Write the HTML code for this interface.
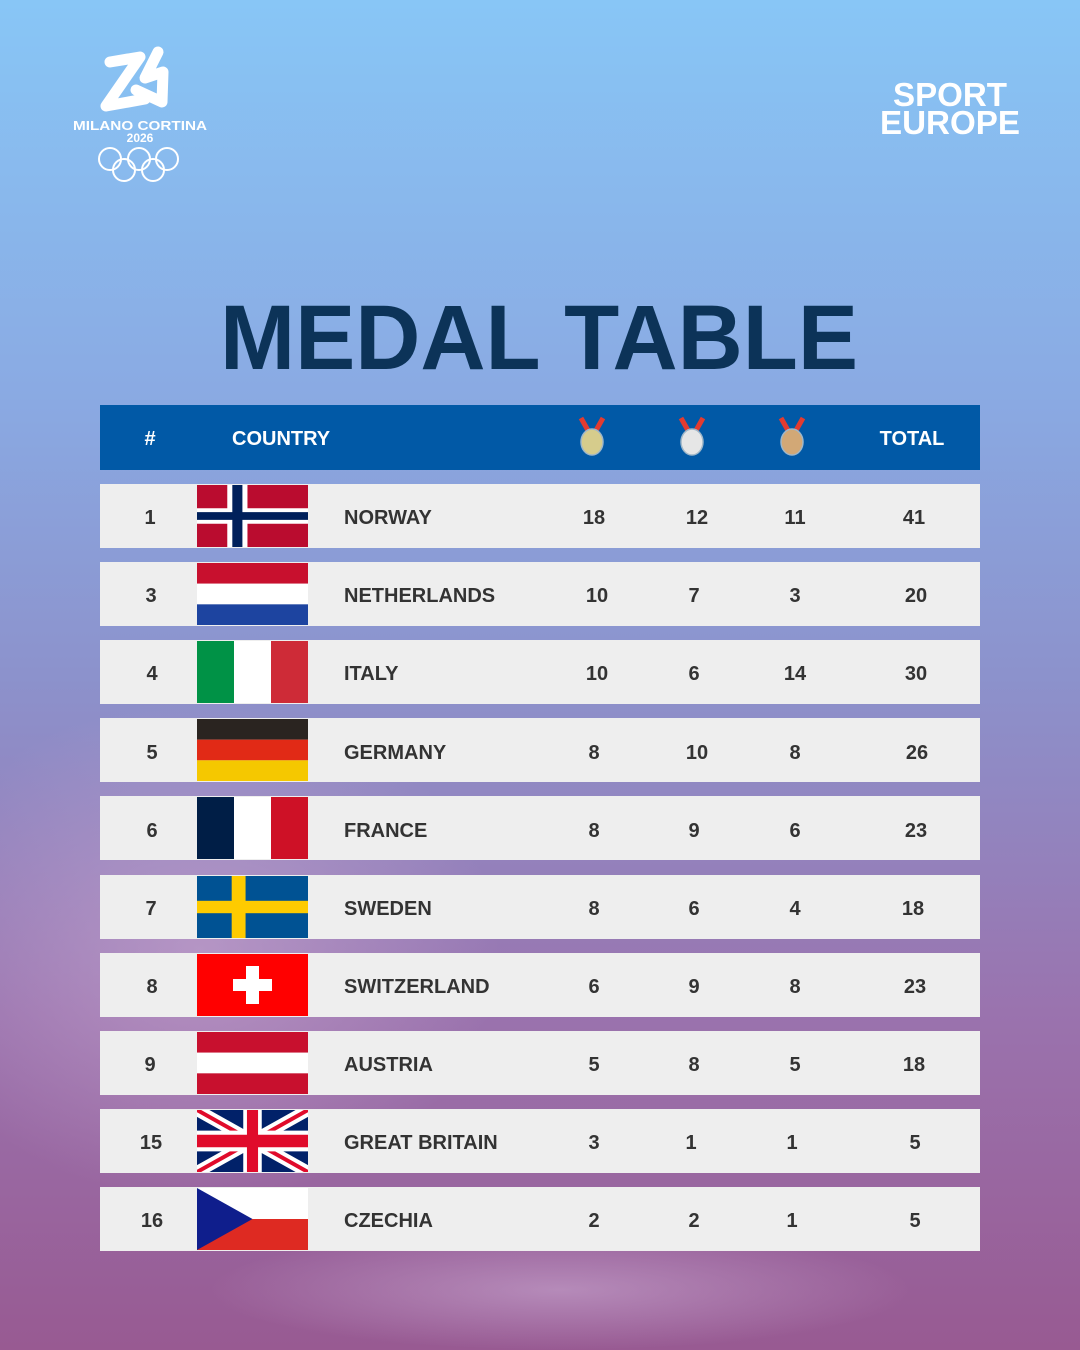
<!DOCTYPE html>
<html><head><meta charset="utf-8"><style>
html,body{margin:0;padding:0;width:1080px;height:1350px;overflow:hidden}
svg{display:block}
</style></head><body>
<svg width="1080" height="1350" viewBox="0 0 1080 1350" xmlns="http://www.w3.org/2000/svg" font-family="Liberation Sans, sans-serif">
<defs>
<linearGradient id="bg" x1="0" y1="0" x2="0" y2="1">
<stop offset="0" stop-color="#88c6f6"/>
<stop offset="0.3" stop-color="#8aa9e2"/>
<stop offset="0.5" stop-color="#8c92cc"/>
<stop offset="0.75" stop-color="#9a73ae"/>
<stop offset="1" stop-color="#985a92"/>
</linearGradient>
<radialGradient id="glow" cx="0.5" cy="0.5" r="0.5">
<stop offset="0" stop-color="#c9a8d0" stop-opacity="0.6"/>
<stop offset="1" stop-color="#c9a8d0" stop-opacity="0"/>
</radialGradient>
<g id="medal">
<path d="M-11,-18 L-2,-2 M11,-18 L2,-2" stroke="#e23b30" stroke-width="5"/>
<ellipse cx="0" cy="6" rx="11" ry="13" stroke="#9fb7c9" stroke-width="1.5"/>
</g>
</defs>
<rect width="1080" height="1350" fill="url(#bg)"/>
<ellipse cx="200" cy="950" rx="300" ry="250" fill="url(#glow)"/>
<ellipse cx="560" cy="1290" rx="350" ry="60" fill="url(#glow)"/>

<!-- logo -->
<g fill="none" stroke="#fff" stroke-width="11" stroke-linecap="round" stroke-linejoin="round">
<path d="M110,62 L140,57 L106,106 L145,99"/>
<path d="M158,52 L145,78 L163,72 L162,102 L136,90"/>
</g>
<text x="140" y="130" fill="#fff" font-size="13" text-anchor="middle" font-weight="bold" textLength="134" lengthAdjust="spacingAndGlyphs">MILANO CORTINA</text>
<text x="140" y="142" fill="#fff" font-size="12" text-anchor="middle" font-weight="bold">2026</text>
<g fill="none" stroke="#fff" stroke-width="2">
<circle cx="110" cy="159" r="11"/><circle cx="139" cy="159" r="11"/><circle cx="167" cy="159" r="11"/>
<circle cx="124" cy="170" r="11"/><circle cx="153" cy="170" r="11"/>
</g>

<text x="950" y="106" fill="#fff" font-size="33" font-weight="bold" text-anchor="middle" textLength="114" lengthAdjust="spacingAndGlyphs">SPORT</text>
<text x="950" y="134" fill="#fff" font-size="33" font-weight="bold" text-anchor="middle" textLength="140" lengthAdjust="spacingAndGlyphs">EUROPE</text>

<text x="220" y="369" fill="#0c3358" font-size="92" font-weight="bold" textLength="638" lengthAdjust="spacingAndGlyphs">MEDAL TABLE</text>

<!-- header -->
<rect x="100" y="405" width="880" height="65" fill="#0159a6"/>
<g fill="#fff" font-size="20" font-weight="bold">
<text x="150" y="445" text-anchor="middle">#</text>
<text x="232" y="445">COUNTRY</text>
<text x="912" y="445" text-anchor="middle">TOTAL</text>
</g>
<use href="#medal" x="592" y="436" fill="#d6cc8c"/>
<use href="#medal" x="692" y="436" fill="#e6e6e6"/>
<use href="#medal" x="792" y="436" fill="#d2a876"/>

<!-- rows -->
<g fill="#eeeeee">
<rect x="100" y="484" width="880" height="64"/>
<rect x="100" y="562" width="880" height="64"/>
<rect x="100" y="640" width="880" height="64"/>
<rect x="100" y="718" width="880" height="64"/>
<rect x="100" y="796" width="880" height="64"/>
<rect x="100" y="875" width="880" height="64"/>
<rect x="100" y="953" width="880" height="64"/>
<rect x="100" y="1031" width="880" height="64"/>
<rect x="100" y="1109" width="880" height="64"/>
<rect x="100" y="1187" width="880" height="64"/>
</g>

<!-- flags -->
<svg x="197" y="485" width="111" height="62" viewBox="0 0 22 16" preserveAspectRatio="none">
<rect width="22" height="16" fill="#ba0c2f"/><rect x="6" width="4" height="16" fill="#fff"/><rect y="6" width="22" height="4" fill="#fff"/>
<rect x="7" width="2" height="16" fill="#00205b"/><rect y="7" width="22" height="2" fill="#00205b"/></svg>
<svg x="197" y="563" width="111" height="62" viewBox="0 0 3 3" preserveAspectRatio="none">
<rect width="3" height="1" fill="#c8102e"/><rect y="1" width="3" height="1" fill="#fff"/><rect y="2" width="3" height="1" fill="#1d44a0"/></svg>
<svg x="197" y="641" width="111" height="62" viewBox="0 0 3 3" preserveAspectRatio="none">
<rect width="1" height="3" fill="#009246"/><rect x="1" width="1" height="3" fill="#fff"/><rect x="2" width="1" height="3" fill="#ce2b37"/></svg>
<svg x="197" y="719" width="111" height="62" viewBox="0 0 3 3" preserveAspectRatio="none">
<rect width="3" height="1" fill="#2a2420"/><rect y="1" width="3" height="1" fill="#e12a16"/><rect y="2" width="3" height="1" fill="#f5c800"/></svg>
<svg x="197" y="797" width="111" height="62" viewBox="0 0 3 3" preserveAspectRatio="none">
<rect width="1" height="3" fill="#001e46"/><rect x="1" width="1" height="3" fill="#fff"/><rect x="2" width="1" height="3" fill="#ce1126"/></svg>
<svg x="197" y="876" width="111" height="62" viewBox="0 0 16 10" preserveAspectRatio="none">
<rect width="16" height="10" fill="#005293"/><rect x="5" width="2" height="10" fill="#fecb00"/><rect y="4" width="16" height="2" fill="#fecb00"/></svg>
<svg x="197" y="954" width="111" height="62">
<rect width="111" height="62" fill="#ff0000"/><rect x="49" y="12" width="13" height="38" fill="#fff"/><rect x="36" y="25" width="39" height="12" fill="#fff"/></svg>
<svg x="197" y="1032" width="111" height="62" viewBox="0 0 3 3" preserveAspectRatio="none">
<rect width="3" height="1" fill="#c8102e"/><rect y="1" width="3" height="1" fill="#fff"/><rect y="2" width="3" height="1" fill="#c8102e"/></svg>
<svg x="197" y="1110" width="111" height="62" viewBox="0 0 60 30" preserveAspectRatio="none">
<rect width="60" height="30" fill="#012169"/>
<path d="M0,0 L60,30 M60,0 L0,30" stroke="#fff" stroke-width="6"/>
<path d="M0,0 L60,30 M60,0 L0,30" stroke="#e00b2b" stroke-width="2"/>
<path d="M30,0 V30 M0,15 H60" stroke="#fff" stroke-width="10"/>
<path d="M30,0 V30 M0,15 H60" stroke="#e00b2b" stroke-width="6"/></svg>
<svg x="197" y="1188" width="111" height="62" viewBox="0 0 6 4" preserveAspectRatio="none">
<rect width="6" height="2" fill="#fff"/><rect y="2" width="6" height="2" fill="#de2a22"/><path d="M0,0 L3,2 L0,4Z" fill="#0f1e8c"/></svg>

<!-- text -->
<g fill="#333" font-size="20" font-weight="bold">
<g text-anchor="middle">
<text x="150" y="524">1</text><text x="594" y="524">18</text><text x="697" y="524">12</text><text x="795" y="524">11</text><text x="914" y="524">41</text>
<text x="151" y="602">3</text><text x="597" y="602">10</text><text x="694" y="602">7</text><text x="795" y="602">3</text><text x="916" y="602">20</text>
<text x="152" y="680">4</text><text x="597" y="680">10</text><text x="694" y="680">6</text><text x="795" y="680">14</text><text x="916" y="680">30</text>
<text x="152" y="759">5</text><text x="594" y="759">8</text><text x="697" y="759">10</text><text x="795" y="759">8</text><text x="917" y="759">26</text>
<text x="152" y="837">6</text><text x="594" y="837">8</text><text x="694" y="837">9</text><text x="795" y="837">6</text><text x="916" y="837">23</text>
<text x="151" y="915">7</text><text x="594" y="915">8</text><text x="694" y="915">6</text><text x="795" y="915">4</text><text x="913" y="915">18</text>
<text x="152" y="993">8</text><text x="594" y="993">6</text><text x="694" y="993">9</text><text x="795" y="993">8</text><text x="915" y="993">23</text>
<text x="150" y="1071">9</text><text x="594" y="1071">5</text><text x="694" y="1071">8</text><text x="795" y="1071">5</text><text x="914" y="1071">18</text>
<text x="151" y="1149">15</text><text x="594" y="1149">3</text><text x="691" y="1149">1</text><text x="792" y="1149">1</text><text x="915" y="1149">5</text>
<text x="152" y="1227">16</text><text x="594" y="1227">2</text><text x="694" y="1227">2</text><text x="792" y="1227">1</text><text x="915" y="1227">5</text>
</g>
<text x="344" y="524">NORWAY</text>
<text x="344" y="602">NETHERLANDS</text>
<text x="344" y="680">ITALY</text>
<text x="344" y="759">GERMANY</text>
<text x="344" y="837">FRANCE</text>
<text x="344" y="915">SWEDEN</text>
<text x="344" y="993">SWITZERLAND</text>
<text x="344" y="1071">AUSTRIA</text>
<text x="344" y="1149">GREAT BRITAIN</text>
<text x="344" y="1227">CZECHIA</text>
</g>
</svg>
</body></html>
